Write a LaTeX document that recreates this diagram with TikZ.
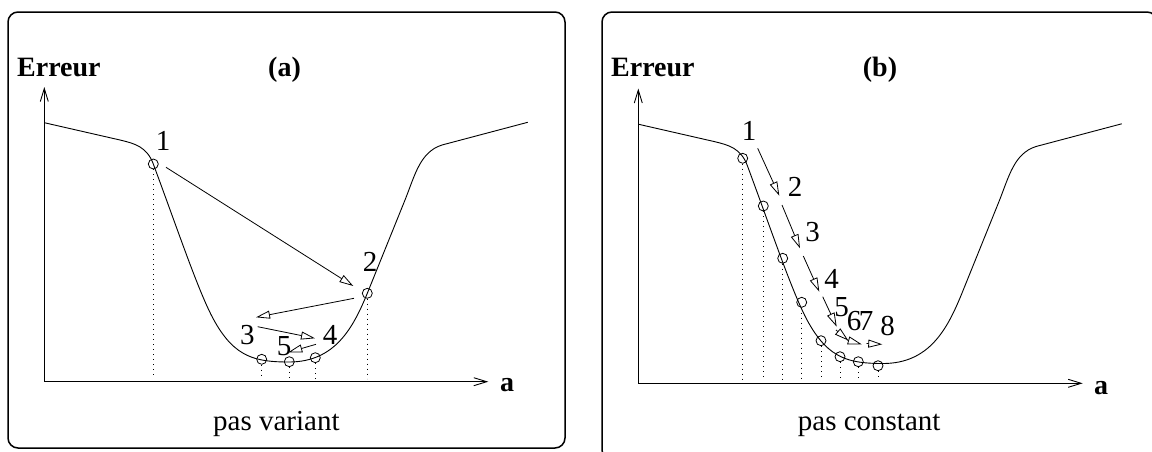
\documentclass[tikz,border=0pt]{standalone}
\usepackage{fontspec}
\setmainfont{Liberation Serif}
\usetikzlibrary{arrows.meta}
\begin{document}
\begin{tikzpicture}[x=1pt,y=-1pt,
  frame/.style={line width=1.5pt, rounded corners=10pt},
  axis/.style={line width=1.1pt, -{Straight Barb[length=13pt,width=8pt,line width=0.9pt]}},
  curveline/.style={line width=0.9pt},
  pt/.style={circle, draw, line width=0.8pt, minimum size=10pt, inner sep=0pt},
  dotline/.style={line width=1pt, dash pattern=on 1pt off 4pt, shorten >=3pt},
  stp/.style={line width=0.8pt, -{Triangle[open,length=14pt,width=8pt]}},
  lbl/.style={font=\fontsize{29}{34}\selectfont, inner sep=0pt, anchor=base},
  ttl/.style={font=\bfseries\fontsize{28}{32}\selectfont, inner sep=0pt, anchor=base west},
  captxt/.style={font=\fontsize{29}{34}\selectfont, inner sep=0pt, anchor=base west},
  errcurve/.pic={
    \draw[curveline] (44.3,122.7) -- (120,140)
      .. controls (135,143.5) and (147,147) .. (153.3,164)
      .. controls (180,236) and (200,296) .. (215,322)
      .. controls (235,357) and (255,362) .. (289,362)
      .. controls (335,362) and (353,328) .. (367.3,293.3)
      -- (405,200)
      .. controls (415,175) and (420,152) .. (442,145)
      -- (527.7,122.3);
  }
]
\useasboundingbox (0,0) rectangle (1152,451);

% ---------------- panel (a) ----------------
\draw[frame] (8,12) rectangle (565,448);
\node[ttl] (ea) at (17,76) {Erreur};
\node[ttl] (ta) at (268,76) {(a)};
\coordinate (oa) at (44.3,381.7);
\coordinate (ya) at (44.3,87);
\coordinate (xa) at (488.3,381.7);
\draw[axis] (oa) -- (ya);
\draw[axis] (oa) -- (xa);
\node[ttl] (axa) at (500,391.7) {a};
\pic at (0,0) {errcurve};

\node[pt] (a1) at (153.3,164) {};
\node[pt] (a2) at (367.3,293.3) {};
\node[pt] (a3) at (261.7,359.3) {};
\node[pt] (a4) at (315.3,357.7) {};
\node[pt] (a5) at (289.3,361.7) {};
\foreach \n in {1,...,5} \draw[dotline] (a\n.south) -- (a\n |- oa);

\node[lbl] (la1) at (163,150) {1};
\node[lbl] (la2) at (370,271.7) {2};
\node[lbl] (la3) at (247.3,344.3) {3};
\node[lbl] (la4) at (330,344.3) {4};
\node[lbl] (la5) at (284,355) {5};

\coordinate (s12) at (166,167.3);   \coordinate (e12) at (353.3,286);
\coordinate (s23) at (354,298.3);   \coordinate (e23) at (256,317.3);
\coordinate (s34) at (257.7,326.7); \coordinate (e34) at (315,338.3);
\coordinate (s45) at (316,344.3);   \coordinate (e45) at (288.3,352.3);
\draw[stp] (s12) -- (e12);
\draw[stp] (s23) -- (e23);
\draw[stp] (s34) -- (e34);
\draw[stp] (s45) -- (e45);

\node[captxt] (ca) at (213,430) {pas variant};

% ---------------- panel (b) ----------------
\draw[frame] (602,12) rectangle (1157,460);
\node[ttl] (eb) at (611,76) {Erreur};
\node[ttl] (tb) at (862.7,76) {(b)};
\coordinate (ob) at (638.3,383.3);
\coordinate (yb) at (638.3,88.5);
\coordinate (xb) at (1082.7,383.3);
\draw[axis] (ob) -- (yb);
\draw[axis] (ob) -- (xb);
\node[ttl] (axb) at (1094,394) {a};
\pic at (594,1.5) {errcurve};

\node[pt] (b1) at (742.7,158.3) {};
\node[pt] (b2) at (763.3,206) {};
\node[pt] (b3) at (782.7,258.3) {};
\node[pt] (b4) at (801.7,302.3) {};
\node[pt] (b5) at (821,340.7) {};
\node[pt] (b6) at (840,356.7) {};
\node[pt] (b7) at (858.3,361.7) {};
\node[pt] (b8) at (878,365.7) {};
\foreach \n in {1,...,8} \draw[dotline] (b\n.south) -- (b\n |- ob);

\node[lbl] (lb1) at (749,140) {1};
\node[lbl] (lb2) at (795,196.7) {2};
\node[lbl] (lb3) at (812.5,241.7) {3};
\node[lbl] (lb4) at (831.5,288) {4};
\node[lbl] (lb5) at (841.7,316.7) {5};
\node[lbl] (lb6) at (854,330) {6};
\node[lbl] (lb7) at (866,330) {7};
\node[lbl] (lb8) at (887.5,335) {8};

\coordinate (t12) at (757.7,148.3); \coordinate (u12) at (779.3,195.7);
\coordinate (t23) at (782,205);     \coordinate (u23) at (800,248.3);
\coordinate (t34) at (803.3,256);   \coordinate (u34) at (819.3,291.7);
\coordinate (t45) at (822.7,296.7); \coordinate (u45) at (836.7,326.7);
\coordinate (t56) at (836,330);     \coordinate (u56) at (848.3,340.5);
\coordinate (t67) at (847,340);     \coordinate (u67) at (861.7,344.3);
\coordinate (t78) at (866.5,343.5); \coordinate (u78) at (882.3,344.3);
\draw[stp] (t12) -- (u12);
\draw[stp] (t23) -- (u23);
\draw[stp] (t34) -- (u34);
\draw[stp] (t45) -- (u45);
\draw[stp] (t56) -- (u56);
\draw[stp] (t67) -- (u67);
\draw[stp] (t78) -- (u78);

\node[captxt] (cb) at (797.7,430) {pas constant};
\end{tikzpicture}
\end{document}
